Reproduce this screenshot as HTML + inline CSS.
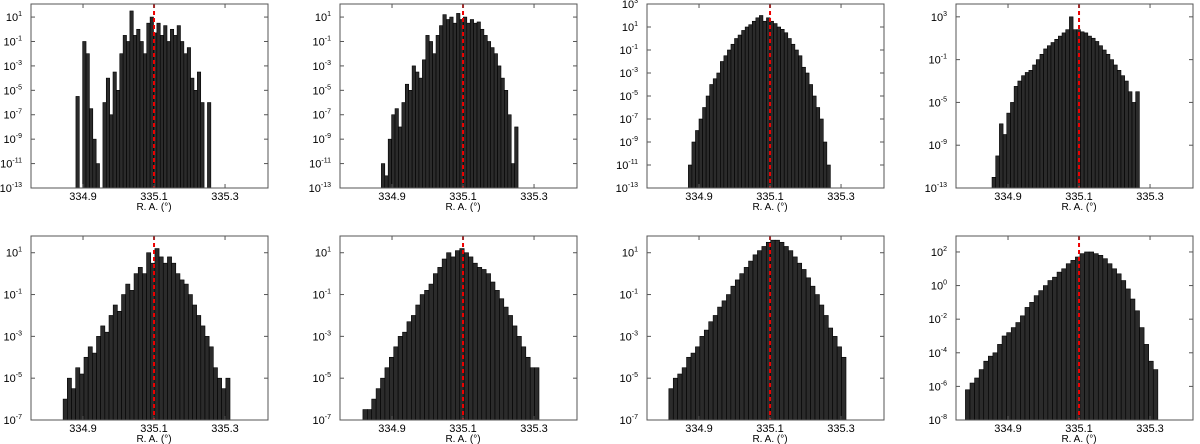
<!DOCTYPE html>
<html><head><meta charset="utf-8"><style>
body{margin:0;background:#fff;}
svg{display:block;font-family:"Liberation Sans","DejaVu Sans",sans-serif;}
</style></head><body>
<svg id="c" width="1200" height="444"></svg>
<script>
const p1Vals=[-5.5,-13,-1,-2,-6.5,-9,-11,-13,-6,-4,-7,-3.5,-5,-2,-0.5,-1,1.5,-0.5,0,-1,-2,0.5,1,-0.3,0.5,-0.5,0.3,-1,0,-0.5,0.3,-1,-2,-1.5,-4,-5,-3.5,-6,-13,-6];
const p2Vals=[-11,-12,-9,-7,-6.5,-8,-6,-4.5,-5,-3,-3.5,-4,-2.5,-0.5,-1,-2,-0.5,0.3,1.2,0.8,1,0.5,1.3,0.8,1,0.5,0.8,0.5,0.6,0,-0.5,-1,-1.5,-2,-3,-4,-5,-7,-11,-8];
const p3Vals=[-11,-9,-8,-7,-6,-5,-4,-3.5,-3,-2,-1.5,-1,-0.5,0,0.3,0.7,1,1.2,1.5,1.8,2,1.5,1.8,1.5,1.3,1,0.8,0.5,0,-0.5,-1,-1.5,-2.5,-3,-4,-5,-6,-7,-9,-11];
const p4Vals=[-12,-10,-7,-8,-6,-5,-3.5,-3,-2.5,-2.2,-2,-1.5,-1,-0.5,0,0.3,0.6,0.9,1.2,1.5,1.8,3,1.8,1.8,1.6,1.5,1.2,1,0.7,0.3,-0.1,-0.5,-1,-1.5,-2,-2.5,-3,-4,-5,-4];
const p5Vals=[-6,-5,-5.5,-4.5,-4.8,-4,-3.5,-3.8,-3,-2.5,-2.8,-2,-1.5,-1.8,-1,-0.5,-0.8,0,0.3,0,1,0.5,1.2,0.8,0.5,0.8,0.5,0,-0.3,-0.5,-1,-1.5,-2,-2.5,-3,-3.5,-4.5,-5,-5.5,-5];
const p6Vals=[-6.5,-6.5,-6,-5.5,-5,-4.5,-4,-3.5,-3,-2.8,-2.3,-2,-1.5,-1,-0.8,-0.5,0,0.3,0.7,1,0.8,1.1,1.2,1,0.8,0.5,0.3,0.2,0,-0.4,-0.8,-1.2,-1.6,-2,-2.5,-3,-3.5,-4,-4.5,-4.5];
const p7Vals=[-5.5,-5,-4.8,-4.5,-4,-3.8,-3.5,-3,-2.7,-2.3,-2,-1.6,-1.3,-1,-0.6,-0.3,0,0.3,0.6,0.9,1.1,1.3,1.5,1.6,1.6,1.5,1.3,1.1,0.8,0.5,0.2,-0.2,-0.6,-1,-1.5,-2,-2.6,-3,-3.5,-4];
const p8Vals=[-6.2,-5.8,-5.5,-5,-4.5,-4.2,-4,-3.5,-3,-2.8,-2.5,-2.2,-1.8,-1.3,-1,-0.6,-0.3,0,0.3,0.5,0.8,1,1.3,1.5,1.7,1.9,2,2,1.9,1.8,1.6,1.3,1,0.7,0.3,-0.2,-0.8,-1.5,-2.5,-3.5,-4.5,-5];
const dataStart=[334.88,334.87,334.87,334.855,334.844,334.818,334.815,334.78];
const dataEnd=[335.26,335.255,335.27,335.27,335.314,335.314,335.314,335.322];
const yMin=[-13,-13,-13,-13,-7,-7,-7,-8];
const yMax=[2.07,2.07,3,4.2,1.8,1.8,1.8,2.95];
const yTickExp=[[-13,-11,-9,-7,-5,-3,-1,1],[-13,-11,-9,-7,-5,-3,-1,1],[-13,-11,-9,-7,-5,-3,-1,1,3],[-13,-9,-5,-1,3],[-7,-5,-3,-1,1],[-7,-5,-3,-1,1],[-7,-5,-3,-1,1],[-8,-6,-4,-2,0,2]];
const xTicks=[334.9,335.1,335.3];
const refRA=335.1;
const allVals=[p1Vals,p2Vals,p3Vals,p4Vals,p5Vals,p6Vals,p7Vals,p8Vals];
const NS="http://www.w3.org/2000/svg";
const svg=document.getElementById('c');
function mk(t,a,p){const e=document.createElementNS(NS,t);for(const k in a)e.setAttribute(k,a[k]);(p||svg).appendChild(e);return e;}
const cols=[31,340,647,956],rows=[4,236],W=237,H=184,XMIN=334.7535,XMAX=335.421;
allVals.forEach((vals,i)=>{
  const L=cols[i%4],T=rows[Math.floor(i/4)];
  const g=mk('g',{});
  
  
  const xs=v=>L+(v-XMIN)/(XMAX-XMIN)*W;
  const ys=v=>T+H-(v-yMin[i])/(yMax[i]-yMin[i])*H;
  const bw=(dataEnd[i]-dataStart[i])/vals.length;
  vals.forEach((v,j)=>{
    const x0=xs(dataStart[i]+j*bw),x1=xs(dataStart[i]+(j+1)*bw);
    const y=Math.max(T,ys(v));
    const r=mk('rect',{x:x0,y:y,width:Math.max(0.5,x1-x0),height:T+H-y,fill:'#2b2b2b',stroke:'#000','stroke-width':0.6},g);
    
    
  });
  const ln=mk('line',{x1:xs(refRA),x2:xs(refRA),y1:T,y2:T+H,stroke:'#e00',"stroke-width":2,"stroke-dasharray":"4,3"},g);
  
  
  const fr=mk('rect',{x:L,y:T,width:W,height:H,fill:'none',stroke:'#555','stroke-width':1},g);
  
  
  xTicks.forEach(t=>{
    const x=xs(t);
    mk('line',{x1:x,x2:x,y1:T+H,y2:T+H-4,stroke:'#555'},g);
    mk('line',{x1:x,x2:x,y1:T,y2:T+4,stroke:'#555'},g);
    const tx=mk('text',{x:x,y:T+H+12,'font-size':11,'text-anchor':'middle',fill:'#000'},g);
    tx.textContent=t.toFixed(1);
    
    
  });
  yTickExp[i].forEach(e=>{
    const y=ys(e);
    mk('line',{x1:L,x2:L+4,y1:y,y2:y,stroke:'#555'},g);
    mk('line',{x1:L+W,x2:L+W-4,y1:y,y2:y,stroke:'#555'},g);
    const tx=mk('text',{x:L-9,y:y+4,'font-size':11,'text-anchor':'end',fill:'#000'},g);
    tx.textContent='10';
    const s=mk('tspan',{dy:-5,'font-size':7},tx);
    s.textContent=String(e);
    
    
  });
  const xl=mk('text',{x:L+123,y:T+H+22,'font-size':10,'text-anchor':'middle',fill:'#000'},g);
  xl.textContent='R. A.  (°)';
  
  
});
</script>
</body></html>
